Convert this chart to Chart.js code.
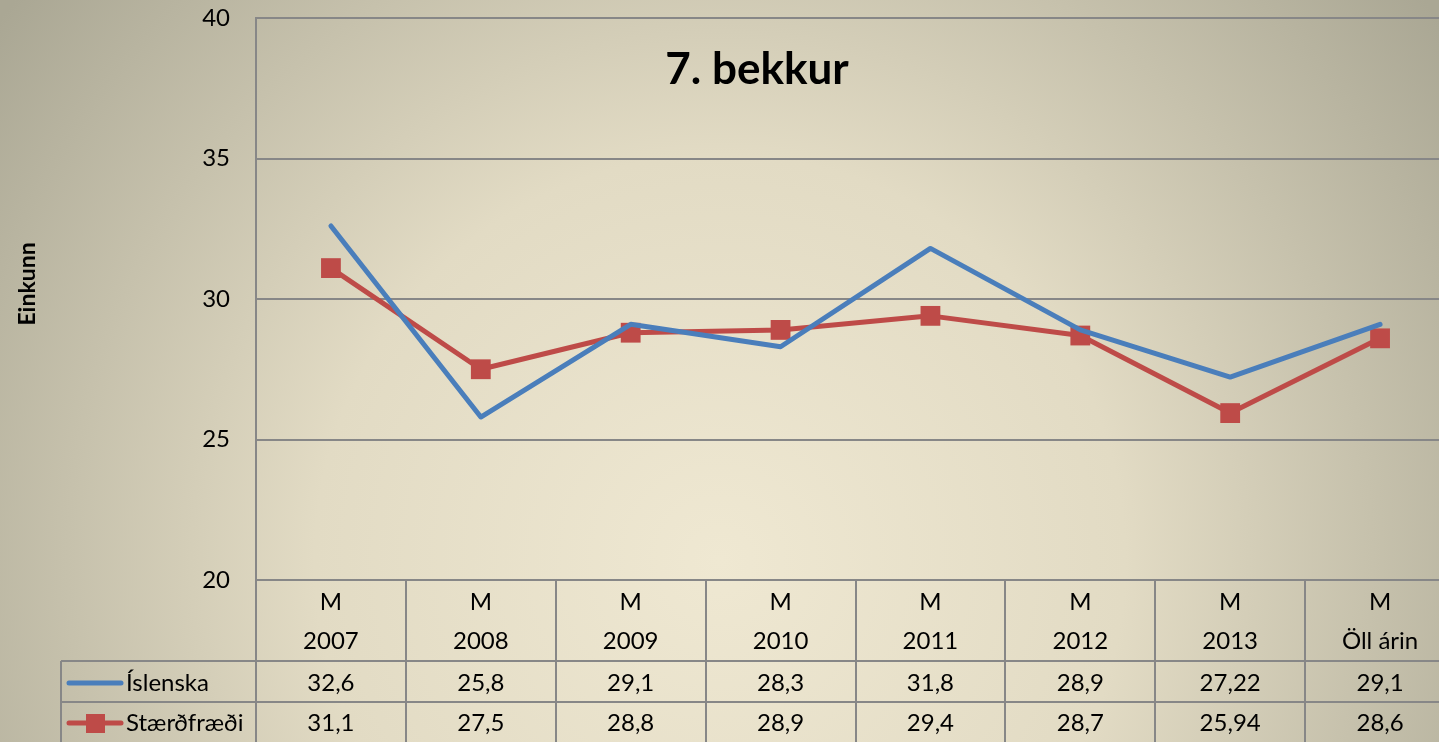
<!DOCTYPE html>
<html>
<head>
<meta charset="utf-8">
<script src="https://cdn.jsdelivr.net/npm/chart.js@4"></script>
<style>
  html, body { margin: 0; padding: 0; overflow: hidden; background: #c9c4ae; }
  #wrap { width: 1469px; height: 742px; }
</style>
</head>
<body>
<div id="wrap"><canvas id="chart" width="1469" height="742"></canvas></div>
<script>
/* 7. bekkur — Íslenska / Stærðfræði, samræmd próf */

const title = "7. bekkur";
const axisTitle = "Einkunn";
const rowPrefix = "M";
const years = ["2007", "2008", "2009", "2010", "2011", "2012", "2013", "Öll árin"];
const islenska = [32.6, 25.8, 29.1, 28.3, 31.8, 28.9, 27.22, 29.1];
const staerdfraedi = [31.1, 27.5, 28.8, 28.9, 29.4, 28.7, 25.94, 28.6];
const yTicks = [20, 25, 30, 35, 40];

const BLUE = "#4a7ebb";
const RED = "#be4b48";
const LINE = "#878787";
const FONT = "Lato, 'Open Sans', sans-serif";

const fmt = (v) => String(v).replace(".", ",");

/* ---------- fond dégradé ---------- */
const background = {
  id: "background",
  beforeDraw(chart) {
    const { ctx, width, height } = chart;
    const g = ctx.createRadialGradient(720, 560, 0, 720, 560, 900);
    g.addColorStop(0, "#efe8d2");
    g.addColorStop(0.45, "#e2dbc4");
    g.addColorStop(1, "#aaa794");
    ctx.save();
    ctx.fillStyle = g;
    ctx.fillRect(0, 0, width, height);
    ctx.restore();
  },
};

/* ---------- tableau de données sous l'axe ---------- */
const dataTable = {
  id: "dataTable",
  afterDraw(chart) {
    const { ctx, chartArea: ca, scales: { x } } = chart;
    const H = chart.height;
    const colW = x.getPixelForValue(1) - x.getPixelForValue(0);
    const rowA = 661, rowB = 702, legendLeft = 61;

    ctx.save();
    ctx.strokeStyle = LINE;
    ctx.lineWidth = 2;
    ctx.beginPath();
    // séparateurs verticaux
    for (let i = 0; i <= years.length; i++) {
      const px = Math.round(x.getPixelForValue(i) - colW / 2);
      ctx.moveTo(px, i === 0 ? ca.top : ca.bottom);
      ctx.lineTo(px, H);
    }
    ctx.moveTo(legendLeft, rowA); ctx.lineTo(legendLeft, H);
    ctx.moveTo(legendLeft, rowA); ctx.lineTo(ca.right, rowA);
    ctx.moveTo(legendLeft, rowB); ctx.lineTo(ca.right, rowB);
    ctx.stroke();

    ctx.fillStyle = "#000";
    ctx.textAlign = "center";
    ctx.textBaseline = "middle";
    ctx.font = `24px ${FONT}`;
    years.forEach((yr, i) => {
      const cx = x.getPixelForValue(i);
      ctx.fillText(rowPrefix, cx, 602);
      ctx.fillText(yr, cx, 641);
      ctx.fillText(fmt(islenska[i]), cx, 683);
      ctx.fillText(fmt(staerdfraedi[i]), cx, 723);
    });

    // clés de légende
    ctx.lineCap = "round";
    ctx.lineWidth = 5;
    ctx.strokeStyle = BLUE;
    ctx.beginPath(); ctx.moveTo(69, 683); ctx.lineTo(121, 683); ctx.stroke();
    ctx.strokeStyle = RED;
    ctx.beginPath(); ctx.moveTo(69, 723); ctx.lineTo(121, 723); ctx.stroke();
    ctx.fillStyle = RED;
    ctx.fillRect(86, 714, 19, 19);

    ctx.fillStyle = "#000";
    ctx.textAlign = "left";
    ctx.fillText("Íslenska", 126, 683);
    ctx.fillText("Stærðfræði", 126, 723);

    // titres
    ctx.textAlign = "center";
    ctx.font = `bold 44px ${FONT}`;
    ctx.fillText(title, 757, 70);
    ctx.translate(28, 284);
    ctx.rotate(-Math.PI / 2);
    ctx.font = `bold 23px ${FONT}`;
    ctx.fillText(axisTitle, 0, 0);
    ctx.restore();
  },
};

new Chart(document.getElementById("chart"), {
  type: "line",
  data: {
    labels: years,
    datasets: [
      {
        label: "Íslenska", data: islenska, borderColor: BLUE, backgroundColor: BLUE,
        borderWidth: 5, borderJoinStyle: "round", borderCapStyle: "round", pointRadius: 0, tension: 0,
      },
      {
        label: "Stærðfræði", data: staerdfraedi, borderColor: RED, backgroundColor: RED,
        borderWidth: 5, borderJoinStyle: "round", borderCapStyle: "round",
        pointStyle: "rect", pointRadius: 14, pointBorderWidth: 0, tension: 0,
      },
    ],
  },
  options: {
    responsive: false, animation: false, devicePixelRatio: 1,
    layout: { padding: { top: 18, right: 4, left: 0, bottom: 0 } },
    plugins: { legend: { display: false }, tooltip: { enabled: false }, title: { display: false } },
    scales: {
      x: {
        offset: true,
        grid: { display: false },
        border: { display: false },
        ticks: { display: false },
        afterFit: (s) => { s.height = 162; s.paddingLeft = 0; s.paddingRight = 0; },
      },
      y: {
        min: 20, max: 40,
        afterBuildTicks: (s) => { s.ticks = yTicks.map((v) => ({ value: v })); },
        grid: { color: LINE, lineWidth: 2, drawTicks: false },
        border: { color: LINE, width: 2 },
        ticks: { color: "#000", font: { family: FONT, size: 24 }, padding: 26 },
        afterFit: (s) => { s.width = 256; s.paddingTop = 0; s.paddingBottom = 0; },
      },
    },
  },
  plugins: [background, dataTable],
});
</script>
</body>
</html>
